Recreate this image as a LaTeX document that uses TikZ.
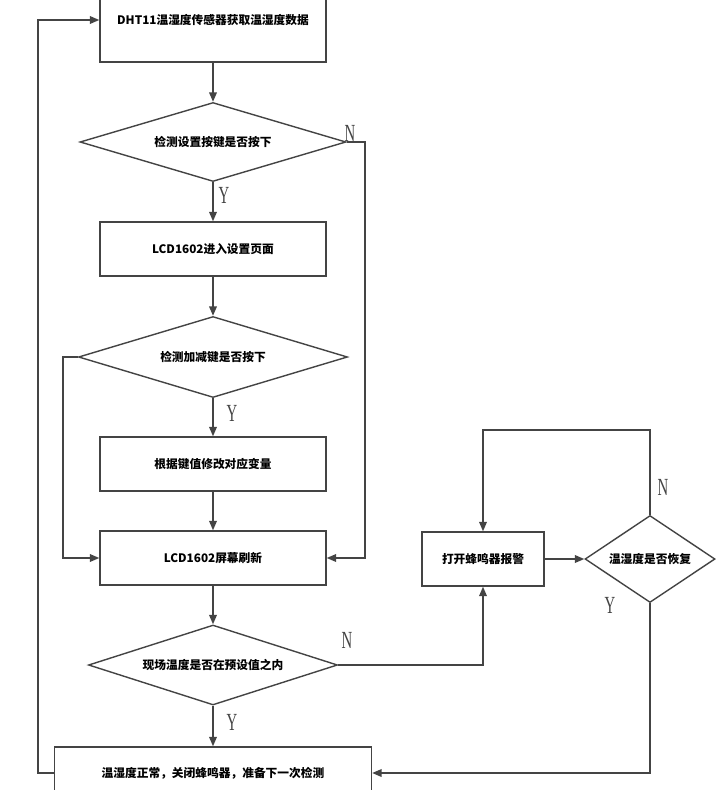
\documentclass[tikz,border=0pt]{standalone}
\usepackage{fontspec}
\newfontfamily\cjk{Noto Sans CJK SC}
\newfontfamily\ynfont[FakeStretch=0.6]{Liberation Serif}
\usetikzlibrary{arrows.meta,shapes.geometric}
\definecolor{linegray}{HTML}{444444}

\begin{document}
\begin{tikzpicture}[
  x=0.03cm, y=-0.03cm,
  box/.style={draw=linegray, line width=1.2pt, minimum width=6.78cm, minimum height=1.62cm,
    inner sep=1pt, font=\cjk\bfseries\fontsize{10}{12}\selectfont},
  dec/.style={diamond, draw=linegray, line width=1.2pt, inner sep=0pt, shape aspect=3,
    font=\cjk\bfseries\fontsize{10}{12}\selectfont},
  arr/.style={-{Triangle[length=8pt,width=6.5pt]}, line width=1.2pt, draw=linegray},
  yn/.style={font=\ynfont\fontsize{21}{21}\selectfont, text=linegray}
]
\useasboundingbox (0,0) rectangle (723,790);
\clip (0,0) rectangle (723,790);

% main column
\node[box, minimum height=2.52cm] (read) at (213,20) {DHT11温湿度传感器获取温湿度数据};
\node[dec, minimum width=7.98cm, minimum height=2.37cm] (setkey) at (213,142) {检测设置按键是否按下};
\node[box] (setpage) at (213,249) {LCD1602进入设置页面};
\node[dec, minimum width=8.07cm, minimum height=2.43cm] (addkey) at (213,357) {检测加减键是否按下};
\node[box] (modify) at (213,464) {根据键值修改对应变量};
\node[box] (refresh) at (213,558) {LCD1602屏幕刷新};
\node[dec, minimum width=7.47cm, minimum height=2.4cm] (range) at (213,665) {现场温度是否在预设值之内};
\node[box, minimum width=9.51cm, minimum height=1.56cm] (normal) at (213,773) {温湿度正常，关闭蜂鸣器，准备下一次检测};

% alarm branch
\node[box, minimum width=3.66cm] (alarm) at (483,559) {打开蜂鸣器报警};
\node[dec, minimum width=3.9cm, minimum height=2.61cm, shape aspect=1.5] (recover) at (650,559) {温湿度是否恢复};

\coordinate (nright) at (365,142);
\coordinate (nleft) at (63,357);
\coordinate (ntop) at (650,430);
\coordinate (back) at (38,773);

\draw[arr] (read) -- (setkey);
\draw[arr] (setkey) -- (setpage);
\draw[arr] (setpage) -- (addkey);
\draw[arr] (addkey) -- (modify);
\draw[arr] (modify) -- (refresh);
\draw[arr] (refresh) -- (range);
\draw[arr] (range) -- (normal);
\draw[arr] (setkey.east) -- (nright) |- (refresh.east);
\draw[arr] (addkey.west) -- (nleft) |- (refresh.west);
\draw[arr] (range.east) -| (alarm.south);
\draw[arr] (alarm) -- (recover);
\draw[arr] (recover.north) -- (ntop) -| (alarm.north);
\draw[arr] (recover.south) |- (normal.east);
\draw[arr] (normal.west) -- (back) |- (read.west);

\node[yn] (n1) at (350,133) {N};
\node[yn] (y1) at (224,195) {Y};
\node[yn] (y2) at (232,413) {Y};
\node[yn] (n3) at (347,640) {N};
\node[yn] (y3) at (232,722) {Y};
\node[yn] (n4) at (663,487) {N};
\node[yn] (y4) at (610,605) {Y};

\end{tikzpicture}
\end{document}
